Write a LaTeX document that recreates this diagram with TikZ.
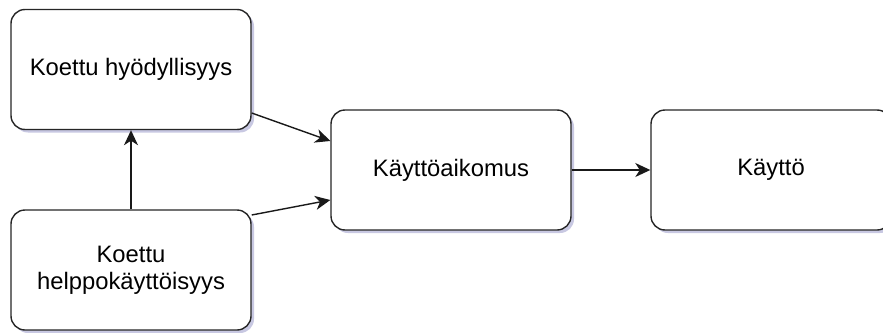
\documentclass[tikz,border=0pt]{standalone}
\usepackage{fontspec}
\setmainfont{Liberation Sans}
\usetikzlibrary{arrows.meta,shadows}
\begin{document}
\begin{tikzpicture}[x=1pt,y=-1pt,
  boxstyle/.style={draw=black!85, line width=1.4pt, rounded corners=14pt, fill=white,
    minimum width=240pt, minimum height=120pt, inner sep=0pt, align=center,
    font=\fontsize{23.8}{27}\selectfont,
    drop shadow={shadow xshift=3pt, shadow yshift=-3pt, fill=blue!30!gray!55, opacity=0.6}},
  arr/.style={line width=1.4pt, draw=black!90, -{Stealth[length=15pt,width=14pt,inset=4.5pt]}}
]
\useasboundingbox (0,0) rectangle (883,332);
\node[boxstyle] (b1) at (131,69.5) {Koettu hyödyllisyys};
\node[boxstyle] (b2) at (131,270) {Koettu\\helppokäyttöisyys};
\node[boxstyle] (b3) at (451,170) {Käyttöaikomus};
\node[boxstyle] (b4) at (771,170) {Käyttö};
\draw[arr] ([yshift=-43.5pt]b1.east) -- ([yshift=29pt]b3.west);
\draw[arr] ([yshift=55pt]b2.east) -- ([yshift=-30pt]b3.west);
\draw[arr] (b2.north) -- (b1.south);
\draw[arr] (b3.east) -- (b4.west);
\end{tikzpicture}
\end{document}
